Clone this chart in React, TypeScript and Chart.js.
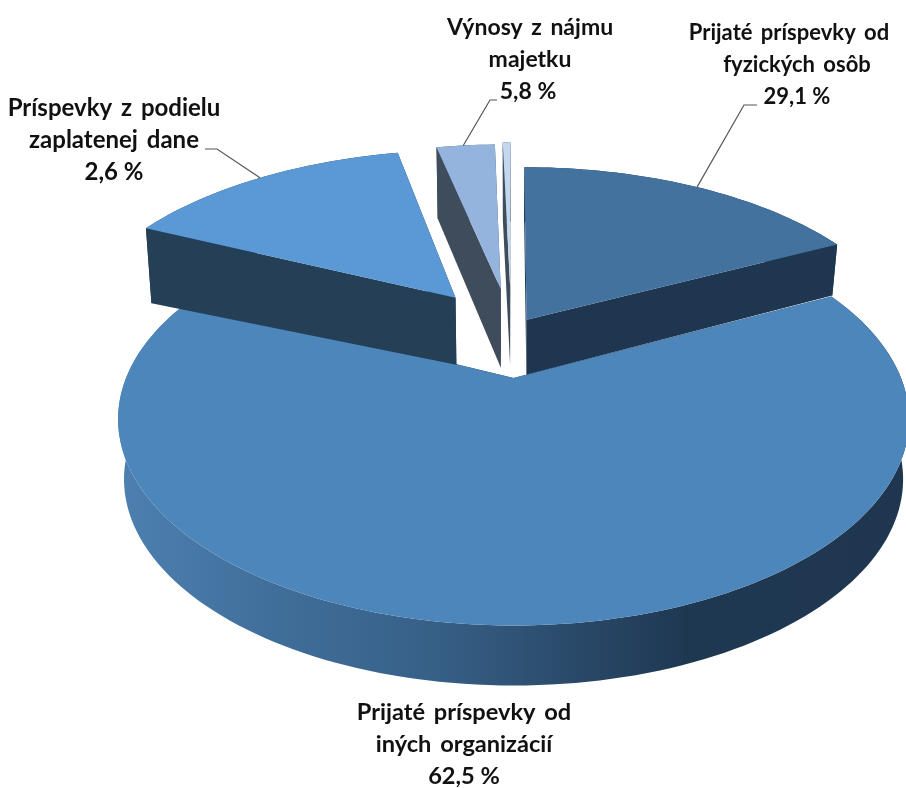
import React, { useEffect, useRef } from "react";
import { Chart, registerables } from "chart.js";

Chart.register(...registerables);

// Category order: clockwise from 12 o'clock, as drawn.
const categories = [
  "Prijaté príspevky od fyzických osôb",
  "Prijaté príspevky od iných organizácií",
  "Príspevky z podielu zaplatenej dane",
  "Výnosy z nájmu majetku",
  "Ostatné",
];
// Slice sizes (the printed labels do not match the drawn areas).
const sliceShares = [17.6, 64.4, 14.6, 3.0, 0.4];
const printedValues = ["29,1 %", "62,5 %", "2,6 %", "5,8 %", ""];
const labelLines = [
  ["Prijaté príspevky od", "fyzických osôb"],
  ["Prijaté príspevky od", "iných organizácií"],
  ["Príspevky z podielu", "zaplatenej dane"],
  ["Výnosy z nájmu", "majetku"],
  [],
];

// Styling / layout
const topColors = ["#43729f", "#4d86bb", "#5a99d6", "#95b4dd", "#c3d7ee"];
const wallColors = ["#1f3650", "#1f3650", "#243f56", "#3e4c5c", "#3e4c5c"];
const explode = [0.05, 0.27, 0.24, 0.25, 0.26];
const nudge = [[0.011, 0], [-0.002, 0], [-0.012, 0.016], [-0.005, 0.025], [-0.005, 0.02]];
const radiusScale = [1.04, 1, 1.055, 1.05, 1.05];
const wallDepth = [55, 60, 67, 79, 79];
const wallSlope = [0.013, 0, 0.026, -0.12, 0];
const drawOrder = [1, 4, 3, 2, 0];
const labelBlocks = [
  { x: 789, y: 33, size: 22, line2Dx: 8, valueDx: 8 },
  { x: 464, y: 712, size: 23.6, line2Dx: 0, valueDx: 0 },
  { x: 114, y: 108, size: 24, line2Dx: 0, valueDx: 0 },
  { x: 530, y: 28, size: 23, line2Dx: 0, valueDx: -2 },
];
const leaders = [
  { frac: 0.505, pts: [[744, 105], [757, 105]] },
  null,
  { frac: 0.5, pts: [[217, 149], [205, 149]] },
  { frac: 0.46, pts: [[490, 100], [497, 100]] },
];

const U0 = 513, V0 = 378, K = 0.2, RX = 387.5, RY = 198, C_Y = -0.27;
const project = (x: number, y: number) => {
  const w = 1 - K * y;
  return [U0 + (RX * x) / w, V0 + (RY * y) / w];
};

const sliceCenter = (i: number, mid: number) => [
  explode[i] * Math.cos(mid) + nudge[i][0],
  C_Y + explode[i] * Math.sin(mid) + nudge[i][1],
];

const pie3d = {
  id: "pie3d",
  beforeDatasetsDraw(chart: any) {
    const ctx = chart.ctx as CanvasRenderingContext2D;
    const arcs = chart.getDatasetMeta(0).data;
    drawOrder.forEach((i) => {
      const a = arcs[i];
      const { startAngle, endAngle } = a.getProps(["startAngle", "endAngle"], true);
      const mid = (startAngle + endAngle) / 2;
      const [ax, ay] = sliceCenter(i, mid);
      const r = radiusScale[i];
      const steps = Math.max(8, Math.round(((endAngle - startAngle) / (2 * Math.PI)) * 240));
      const top: number[][] = [];
      for (let s = 0; s <= steps; s++) {
        const t = startAngle + ((endAngle - startAngle) * s) / steps;
        top.push(project(ax + r * Math.cos(t), ay + r * Math.sin(t)));
      }
      const apex = project(ax, ay);
      const low = (p: number[]) => [
        U0 + (p[0] - U0) * 0.985,
        p[1] + wallDepth[i] + (apex[0] - p[0]) * wallSlope[i],
      ];
      const poly = (pts: number[][], fill: any) => {
        ctx.beginPath();
        pts.forEach((p, n) => (n ? ctx.lineTo(p[0], p[1]) : ctx.moveTo(p[0], p[1])));
        ctx.closePath();
        ctx.fillStyle = fill;
        ctx.fill();
      };
      let wall: any = wallColors[i];
      if (i === 1) {
        const g = ctx.createLinearGradient(118, 0, 906, 0);
        g.addColorStop(0, "#4d80b0");
        g.addColorStop(0.2, "#406e9a");
        g.addColorStop(0.4, "#376087");
        g.addColorStop(0.55, "#2c4d6e");
        g.addColorStop(0.72, "#1f3852");
        g.addColorStop(1, "#1f3650");
        wall = g;
      }
      poly([apex, top[0], low(top[0]), low(apex)], wallColors[i]);
      poly([apex, top[steps], low(top[steps]), low(apex)], wallColors[i]);
      poly([...top, ...top.slice().reverse().map(low)], wall);
      poly([apex, ...top], topColors[i]);
    });
    return false;
  },
  afterDraw(chart: any) {
    const ctx = chart.ctx as CanvasRenderingContext2D;
    const arcs = chart.getDatasetMeta(0).data;
    ctx.save();
    ctx.strokeStyle = "#555";
    ctx.lineWidth = 1.2;
    leaders.forEach((l, i) => {
      if (!l) return;
      const { startAngle, endAngle } = arcs[i].getProps(["startAngle", "endAngle"], true);
      const mid = (startAngle + endAngle) / 2;
      const t = startAngle + (endAngle - startAngle) * l.frac;
      const [ax, ay] = sliceCenter(i, mid);
      const p = project(ax + radiusScale[i] * Math.cos(t), ay + radiusScale[i] * Math.sin(t));
      ctx.beginPath();
      ctx.moveTo(p[0], p[1]);
      l.pts.forEach((q) => ctx.lineTo(q[0], q[1]));
      ctx.stroke();
    });
    ctx.fillStyle = "#111";
    ctx.textAlign = "center";
    ctx.textBaseline = "middle";
    labelBlocks.forEach((b, i) => {
      ctx.font = `bold ${b.size}px Lato`;
      (ctx as any).wordSpacing = "3px";
      labelLines[i].forEach((line, n) => ctx.fillText(line, b.x + (n ? b.line2Dx : 0), b.y + n * 32));
      (ctx as any).wordSpacing = "0px";
      ctx.fillText(printedValues[i], b.x + b.valueDx, b.y + labelLines[i].length * 32);
    });
    ctx.restore();
  },
};

export default function App() {
  const ref = useRef<HTMLCanvasElement>(null);
  useEffect(() => {
    document.body.style.margin = "0";
    const chart = new Chart(ref.current!, {
      type: "pie",
      data: {
        labels: categories,
        datasets: [{ data: sliceShares, backgroundColor: topColors, borderWidth: 0 }],
      },
      options: {
        responsive: false,
        animation: false,
        rotation: 0,
        layout: { padding: 0 },
        plugins: { legend: { display: false }, tooltip: { enabled: false } },
      },
      plugins: [pie3d],
    } as any);
    return () => chart.destroy();
  }, []);
  return <canvas ref={ref} width={906} height={788} />;
}
